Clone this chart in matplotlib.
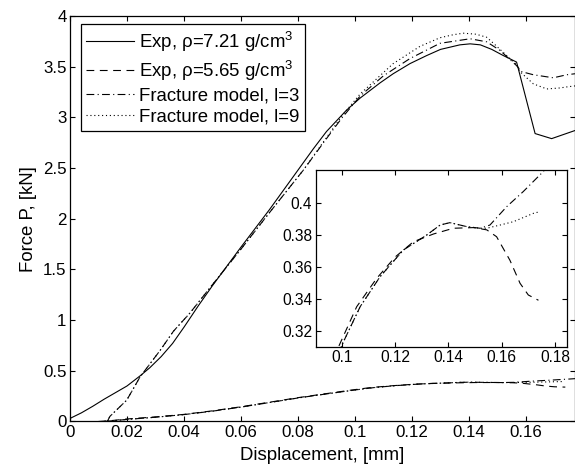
import numpy as np
import matplotlib
matplotlib.use('Agg')
import matplotlib.pyplot as plt
from matplotlib.ticker import FormatStrFormatter, MultipleLocator

plt.rcParams['font.family'] = ['Liberation Sans', 'DejaVu Sans']
plt.rcParams['mathtext.fontset'] = 'custom'
plt.rcParams['mathtext.rm'] = 'Liberation Sans'
plt.rcParams['mathtext.default'] = 'regular'

# upper curves (rho = 7.21)
x_exp1 = [0.0, 0.004, 0.008, 0.012, 0.016, 0.02, 0.0246, 0.028, 0.032, 0.036, 0.04,
          0.045, 0.05, 0.06, 0.07, 0.0795, 0.0854, 0.090, 0.097, 0.1018, 0.1088, 0.1134,
          0.1193, 0.1252, 0.1300, 0.1368, 0.1404, 0.144, 0.148, 0.152, 0.1567,
          0.1632, 0.169, 0.1772]
y_exp1 = [0.03, 0.085, 0.15, 0.22, 0.285, 0.35, 0.45, 0.53, 0.64, 0.77, 0.93,
          1.14, 1.34, 1.72, 2.09, 2.46, 2.69, 2.86, 3.07, 3.19, 3.34, 3.43,
          3.53, 3.61, 3.67, 3.715, 3.725, 3.715, 3.67, 3.61, 3.545,
          2.84, 2.79, 2.87]

x_mod3_up = [0.0131, 0.014, 0.0199, 0.0246, 0.0316, 0.0363, 0.0421, 0.05, 0.06, 0.07,
             0.0819, 0.09, 0.0953, 0.1018, 0.11, 0.1193, 0.1298, 0.1404, 0.1462,
             0.1509, 0.1567, 0.1585, 0.1626, 0.1696, 0.1743, 0.1772]
y_mod3_up = [0.0, 0.05, 0.21, 0.44, 0.70, 0.89, 1.07, 1.35, 1.70, 2.06,
             2.48, 2.79, 2.99, 3.21, 3.41, 3.58, 3.73, 3.775, 3.745,
             3.66, 3.51, 3.45, 3.42, 3.39, 3.42, 3.43]

x_mod9_up = [0.0131, 0.014, 0.0199, 0.0246, 0.0316, 0.0363, 0.0421, 0.05, 0.06, 0.07,
             0.0819, 0.09, 0.0953, 0.1018, 0.1134, 0.1228, 0.1298, 0.1345, 0.138,
             0.1425, 0.1462, 0.1486, 0.1509, 0.1567, 0.1579, 0.1626, 0.1673, 0.172,
             0.1743, 0.1772]
y_mod9_up = [0.0, 0.05, 0.21, 0.44, 0.70, 0.89, 1.07, 1.35, 1.70, 2.06,
             2.48, 2.80, 3.01, 3.23, 3.53, 3.70, 3.785, 3.815, 3.83,
             3.82, 3.79, 3.73, 3.67, 3.52, 3.45, 3.33, 3.28, 3.29,
             3.30, 3.31]

# lower curves (rho = 5.65)
x_exp2 = [0.01, 0.015, 0.02, 0.03, 0.04, 0.05, 0.06, 0.07, 0.08, 0.09, 0.0988,
          0.1056, 0.1131, 0.12, 0.1269, 0.1344, 0.1419, 0.1494, 0.1544, 0.1581,
          0.1631, 0.1669, 0.17, 0.1738]
y_exp2 = [0.0, 0.01, 0.025, 0.045, 0.07, 0.105, 0.145, 0.19, 0.235, 0.275, 0.31,
          0.335, 0.3527, 0.366, 0.3756, 0.3804, 0.384, 0.3844, 0.383, 0.3787,
          0.364, 0.3496, 0.3423, 0.339]

x_mod3_lo = [0.012, 0.02, 0.03, 0.04, 0.05, 0.06, 0.07, 0.08, 0.09, 0.1006,
             0.1069, 0.1144, 0.1231, 0.1319, 0.1369, 0.1406, 0.1469, 0.1519, 0.1556,
             0.1619, 0.1681, 0.1756, 0.1772]
y_mod3_lo = [0.0, 0.02, 0.042, 0.068, 0.102, 0.142, 0.187, 0.232, 0.272, 0.313,
             0.335, 0.3538, 0.3704, 0.3798, 0.386, 0.3875, 0.385, 0.384, 0.386,
             0.3975, 0.4069, 0.4194, 0.4225]

x_mod9_lo = [0.012, 0.02, 0.03, 0.04, 0.05, 0.06, 0.07, 0.08, 0.09, 0.1006,
             0.1069, 0.1144, 0.1231, 0.1319, 0.1369, 0.1406, 0.1469, 0.1519, 0.1544,
             0.1594, 0.1644, 0.1719, 0.1735]
y_mod9_lo = [0.0, 0.02, 0.042, 0.068, 0.102, 0.142, 0.187, 0.232, 0.272, 0.313,
             0.335, 0.3538, 0.3704, 0.3798, 0.386, 0.3875, 0.385, 0.384, 0.384,
             0.386, 0.3881, 0.3933, 0.394]

labels = ['Exp, \u03c1=7.21 g/cm$^3$', 'Exp, \u03c1=5.65 g/cm$^3$',
          'Fracture model, l=3', 'Fracture model, l=9']

lw = 0.8
dash = (7, 5)
dashdot = (7, 3, 1, 3)
dot = (1, 2.5)

fig = plt.figure(figsize=(5.75, 4.68), dpi=100)
ax = fig.add_axes([0.1217, 0.0994, 0.8783, 0.8665])

ax.plot(x_exp1, y_exp1, color='k', lw=lw, label=labels[0])
ax.plot(x_exp2, y_exp2, color='k', lw=lw, dashes=dash, label=labels[1])
ax.plot(x_mod3_up, y_mod3_up, color='k', lw=lw, dashes=dashdot, label=labels[2])
ax.plot(x_mod9_up, y_mod9_up, color='k', lw=lw, dashes=dot, label=labels[3])
ax.plot(x_mod3_lo, y_mod3_lo, color='k', lw=lw, dashes=dashdot)
ax.plot(x_mod9_lo, y_mod9_lo, color='k', lw=lw, dashes=dot)

ax.set_xlim(0, 0.1772)
ax.set_ylim(0, 4)
ax.xaxis.set_major_locator(MultipleLocator(0.02))
ax.yaxis.set_major_locator(MultipleLocator(0.5))
ax.xaxis.set_major_formatter(FormatStrFormatter('%g'))
ax.yaxis.set_major_formatter(FormatStrFormatter('%g'))
ax.tick_params(direction='in', top=True, right=True, length=3.5, width=0.8,
               labelsize=12.2, pad=2.5)
for s in ax.spines.values():
    s.set_linewidth(0.9)
ax.set_xlabel('Displacement, [mm]', fontsize=13.4, labelpad=5)
ax.set_ylabel('Force P, [kN]', fontsize=13.4, labelpad=4)

leg = ax.legend(loc='upper left', bbox_to_anchor=(0.021, 0.98), fontsize=13.4,
                handlelength=2.55, handletextpad=0.28, labelspacing=0.25,
                borderpad=0.3, borderaxespad=0.0, fancybox=False, framealpha=1)
leg.get_frame().set_edgecolor('k')
leg.get_frame().set_linewidth(0.9)

# inset zoom on the lower curves
axin = fig.add_axes([0.549, 0.2592, 0.437, 0.3776])
axin.plot(x_exp2, y_exp2, color='k', lw=lw, dashes=dash)
axin.plot(x_mod3_lo, y_mod3_lo, color='k', lw=lw, dashes=dashdot)
axin.plot(x_mod9_lo, y_mod9_lo, color='k', lw=lw, dashes=dot)
axin.set_xlim(0.0902, 0.1845)
axin.set_ylim(0.31, 0.4204)
axin.set_xticks([0.1, 0.12, 0.14, 0.16, 0.18])
axin.set_yticks([0.32, 0.34, 0.36, 0.38, 0.4])
axin.xaxis.set_major_formatter(FormatStrFormatter('%g'))
axin.yaxis.set_major_formatter(FormatStrFormatter('%g'))
axin.tick_params(direction='in', top=True, right=True, length=3.5, width=0.8,
                 labelsize=11.2, pad=2.5)
for s in axin.spines.values():
    s.set_linewidth(0.9)

fig.savefig('out.png', dpi=100)
